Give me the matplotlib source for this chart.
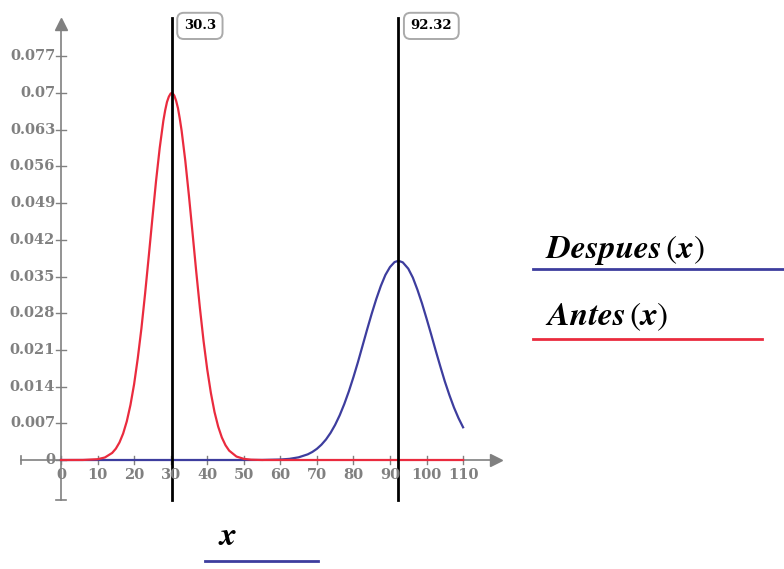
import matplotlib.pyplot as plt
from matplotlib.lines import Line2D

# Antes(x)
antes_x = [0, 6, 10, 12, 14, 15, 16, 17, 18, 19, 20, 21, 22, 23, 24, 25, 26, 27, 28, 28.5, 29,
           29.5, 30, 30.3, 30.6, 31, 31.5, 32, 32.5, 33, 34, 35, 36, 37, 38, 39, 40, 41, 42, 43,
           44, 45, 46, 48, 50, 52, 55, 110]
antes_y = [0, 0.00001, 0.00015, 0.00048, 0.00135, 0.00216, 0.00335, 0.00505, 0.00738, 0.0105,
           0.01446, 0.0194, 0.0251, 0.0317, 0.0388, 0.0461, 0.0532, 0.0595, 0.0647, 0.0667,
           0.0683, 0.0693, 0.0699, 0.0700, 0.0699, 0.0695, 0.0685, 0.0671, 0.0651, 0.0628,
           0.0571, 0.0504, 0.0432, 0.0359, 0.0290, 0.0227, 0.0173, 0.0128, 0.00915, 0.00637,
           0.0043, 0.00282, 0.00179, 0.00066, 0.00022, 0.00006, 0, 0]

# Despues(x)
despues_x = [0, 50, 55, 60, 62.5, 65, 67.5, 68.75, 70, 71.25, 72.5, 73.75, 75, 76.25, 77.5,
             78.75, 80, 81.25, 82.5, 83.75, 85, 86.25, 87.5, 88.75, 90, 91.25, 92.32, 93.5,
             95, 96.25, 97.5, 98.75, 100, 101.25, 102.5, 103.75, 105, 106.25, 107.5, 108.75, 110]
despues_y = [0, 0, 0.000012, 0.00009, 0.00022, 0.00051, 0.00108, 0.00153, 0.00213, 0.00292,
             0.00392, 0.00518, 0.00671, 0.00854, 0.01068, 0.0131, 0.0158, 0.0187, 0.0218,
             0.0249, 0.0279, 0.0307, 0.0332, 0.0353, 0.0368, 0.03775, 0.0380, 0.0377, 0.0365,
             0.0348, 0.0325, 0.0299, 0.0270, 0.0240, 0.0209, 0.0179, 0.0150, 0.0124, 0.01003,
             0.00799, 0.00624]

markers = [30.3, 92.32]
marker_labels = ['30.3', '92.32']

xticks = [0, 10, 20, 30, 40, 50, 60, 70, 80, 90, 100, 110]
yticks = [0, 0.007, 0.014, 0.021, 0.028, 0.035, 0.042, 0.049, 0.056, 0.063, 0.07, 0.077]
ytick_labels = ['0', '0.007', '0.014', '0.021', '0.028', '0.035', '0.042', '0.049',
                '0.056', '0.063', '0.07', '0.077']

blue = '#3d3d9e'
red = '#ea2b3e'
gray = '#808080'
plt.rcParams['mathtext.fontset'] = 'stix'

fig = plt.figure(figsize=(7.84, 5.69), dpi=100)
ax = fig.add_axes([0, 0, 1, 1])
ax.set_xlim(-16.69, 197.8)
ax.set_ylim(-0.02079, 0.08774)
ax.axis('off')

tfont = dict(family='DejaVu Serif', weight='bold', size=10.5, color=gray)

# axes lines with arrows
ax.plot([-11, 118], [0, 0], color=gray, lw=1.2)
ax.plot([0, 0], [-0.0076, 0.082], color=gray, lw=1.2)
ax.plot([119], [0], marker='>', color=gray, ms=8)
ax.plot([0], [0.0832], marker='^', color=gray, ms=8)
ax.plot([-11, -11], [-0.0007, 0.0007], color=gray, lw=1.2)
ax.plot([-1.5, 1.5], [-0.0076, -0.0076], color=gray, lw=1.2)

for xt in xticks:
    ax.plot([xt, xt], [-0.0007, 0.0007], color=gray, lw=1)
    ax.text(xt, -0.0016, str(xt), ha='center', va='top', **tfont)
for yt, lab in zip(yticks, ytick_labels):
    ax.plot([-1.5, 1.5], [yt, yt], color=gray, lw=1)
    ax.text(-1.6, yt, lab, ha='right', va='center', **tfont)

ax.plot(despues_x, despues_y, color=blue, lw=1.6)
ax.plot(antes_x, antes_y, color=red, lw=1.6)

for m, lab in zip(markers, marker_labels):
    ax.plot([m, m], [-0.0076, 0.0843], color='black', lw=2)
    ax.text(m + 3.3, 0.0828, lab, ha='left', va='center',
            family='DejaVu Serif', weight='bold', size=9.5, color='black',
            bbox=dict(boxstyle='round,pad=0.5', fc='white', ec='#aaaaaa', lw=1.4))

# legend-like labels
fig.text(545 / 784, 1 - 258 / 569, r'$\mathbfit{Despues}\,(\mathbfit{x})$',
         fontsize=24, ha='left', va='baseline')
fig.add_artist(Line2D([533 / 784, 784 / 784], [1 - 269 / 569] * 2, color=blue, lw=2))
fig.text(545 / 784, 1 - 325 / 569, r'$\mathbfit{Antes}\,(\mathbfit{x})$',
         fontsize=24, ha='left', va='baseline')
fig.add_artist(Line2D([533 / 784, 762 / 784], [1 - 339 / 569] * 2, color=red, lw=2))
fig.text(218 / 784, 1 - 545 / 569, r'$\mathbfit{x}$', fontsize=24, ha='left', va='baseline')
fig.add_artist(Line2D([205 / 784, 318 / 784], [1 - 561 / 569] * 2, color=blue, lw=2))

fig.savefig('out.png', dpi=100)
